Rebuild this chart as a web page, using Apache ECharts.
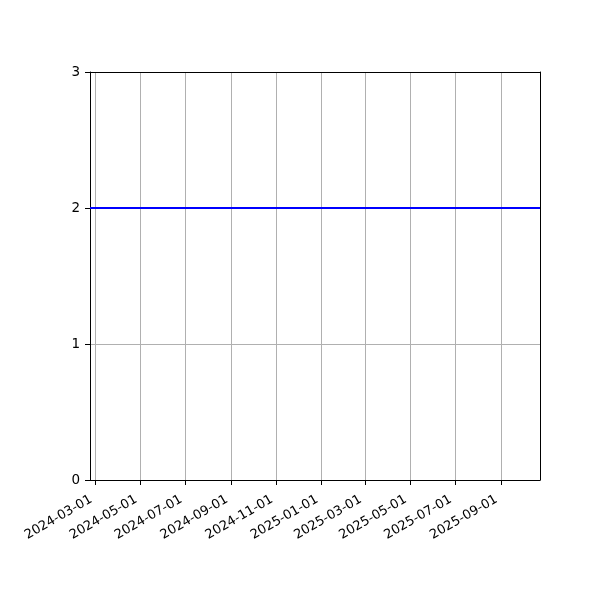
<!DOCTYPE html>
<html>
<head>
    <meta charset="utf-8">
    <title>Flat line over dates</title>
    <script src="https://cdn.jsdelivr.net/npm/echarts@6.0.0/dist/echarts.min.js"></script>
    <style>
        html, body { margin: 0; padding: 0; background: #fff; }
    </style>
</head>
<body>
<div id="main" style="width: 600px;height:600px;"></div>
<script type="text/javascript">

    // data
    let dates = ['2024-02-22 12:00', '2025-10-24 00:00'];
    let values = [2, 2];
    let tickDates = ['2024-03-01', '2024-05-01', '2024-07-01', '2024-09-01', '2024-11-01',
        '2025-01-01', '2025-03-01', '2025-05-01', '2025-07-01', '2025-09-01'];
    let yTicks = [0, 1, 2, 3];

    function toTime(s) {
        let p = s.split(/[- :]/).map(Number);
        return new Date(p[0], p[1] - 1, p[2], p[3] || 0, p[4] || 0).getTime();
    }
    function pad(n) { return n < 10 ? '0' + n : '' + n; }

    let tickTimes = tickDates.map(toTime);
    let xMin = toTime(dates[0]);
    let xMax = toTime(dates[dates.length - 1]);

    let font = 'DejaVu Sans';
    let gridColor = '#b0b0b0';
    let spine = { show: true, onZero: false, lineStyle: { color: '#000', width: 1 } };

    let option = {
        animation: false,
        backgroundColor: '#ffffff',
        grid: { left: 90, right: 60, top: 72, bottom: 120, containLabel: false },
        xAxis: [
            {
                type: 'value',
                min: xMin,
                max: xMax,
                scale: true,
                axisLine: spine,
                axisTick: { show: true, length: 5, lineStyle: { color: '#000' }, customValues: tickTimes },
                splitLine: { show: true, lineStyle: { color: gridColor, width: 1 }, customValues: tickTimes },
                axisLabel: {
                    customValues: tickTimes,
                    rotate: 30,
                    margin: 16,
                    padding: [0, 5, 0, 0],
                    color: '#000',
                    fontFamily: font,
                    fontSize: 13,
                    hideOverlap: false,
                    showMinLabel: true,
                    showMaxLabel: true,
                    formatter: function (v) {
                        let d = new Date(v);
                        return d.getFullYear() + '-' + pad(d.getMonth() + 1) + '-' + pad(d.getDate());
                    }
                }
            },
            {
                // top spine
                type: 'value', position: 'top', min: xMin, max: xMax, scale: true,
                axisLine: spine, axisTick: { show: false }, axisLabel: { show: false },
                splitLine: { show: false }
            }
        ],
        yAxis: [
            {
                type: 'value',
                min: yTicks[0],
                max: yTicks[yTicks.length - 1],
                interval: 1,
                axisLine: spine,
                axisTick: { show: true, length: 5, lineStyle: { color: '#000' } },
                splitLine: { show: true, lineStyle: { color: gridColor, width: 1 } },
                axisLabel: { color: '#000', fontFamily: font, fontSize: 13.5, margin: 10 }
            },
            {
                // right spine
                type: 'value', position: 'right', min: 0, max: 3, interval: 1,
                axisLine: spine, axisTick: { show: false }, axisLabel: { show: false },
                splitLine: { show: false }
            }
        ],
        series: [
            {
                type: 'line',
                xAxisIndex: 0,
                yAxisIndex: 0,
                data: dates.map(function (d, i) { return [toTime(d), values[i]]; }),
                symbol: 'none',
                lineStyle: { color: '#0000ff', width: 2 },
                clip: true
            }
        ]
    };

    let myChart = echarts.init(document.getElementById('main'));
    myChart.setOption(option);
</script>
</body>
</html>
